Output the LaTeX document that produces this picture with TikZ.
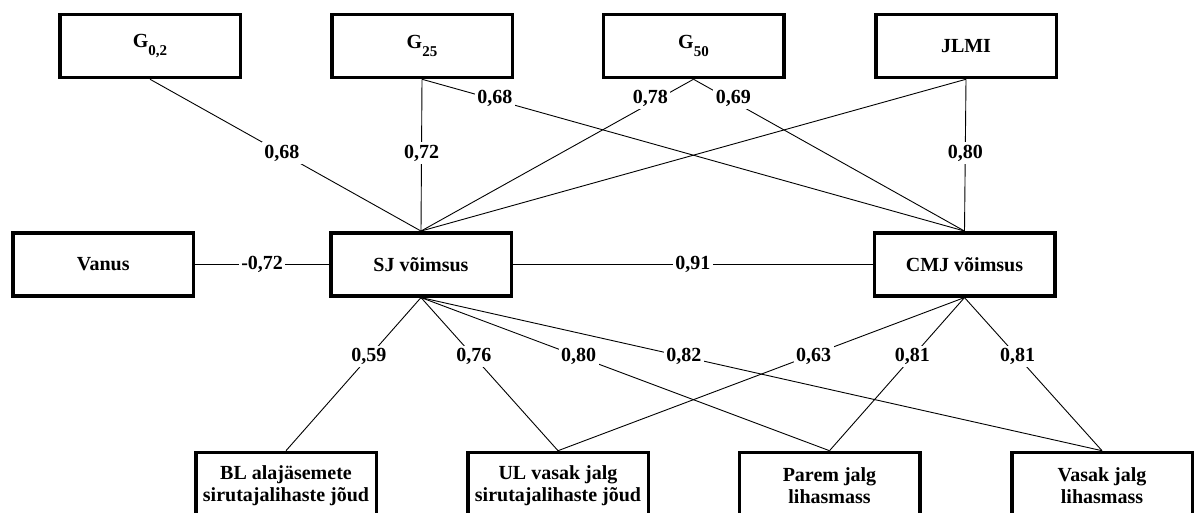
\documentclass[tikz,border=0pt]{standalone}
\usepackage{fontspec}
\setmainfont{Liberation Serif}
\newcommand{\gsub}[1]{\raisebox{-7.5pt}{\fontsize{15}{15}\selectfont #1}}
\begin{document}
\begin{tikzpicture}[x=1pt,y=-1pt,
  box/.style={draw, line width=3.5pt, minimum width=180.5pt, minimum height=63pt,
    font=\fontsize{20}{22}\selectfont\bfseries, align=center, inner sep=0pt},
  lbl/.style={fill=white, inner sep=2.5pt, font=\fontsize{20}{22}\selectfont\bfseries},
  conn/.style={line width=0.9pt}]
\useasboundingbox (0,0) rectangle (1194,512);
\clip (0,0) rectangle (1194,512);
% top row
\node[box] (g02) at (150,46) {G\gsub{0,2}};
\node[box] (g25) at (422,46) {G\gsub{25}};
\node[box] (g50) at (693.5,46) {G\gsub{50}};
\node[box] (jlmi) at (966,46) {JLMI};
% middle row
\node[box] (vanus) at (103.3,264.3) {Vanus};
\node[box] (sj) at (421,264.3) {SJ võimsus};
\node[box] (cmj) at (964.5,264.3) {CMJ võimsus};
% bottom row
\node[box, anchor=north, minimum height=66pt] (bl) at (286,450.7) {BL alajäsemete\\sirutajalihaste jõud};
\node[box, anchor=north, minimum height=66pt] (ul) at (558,450.7) {UL vasak jalg\\sirutajalihaste jõud};
\node[box, anchor=north, minimum height=66pt] (parem) at (829.5,450.7) {Parem jalg\\lihasmass};
\node[box, anchor=north, minimum height=66pt] (vasak) at (1102,450.7) {Vasak jalg\\lihasmass};
% connectors top
\draw[conn] (g02.south) -- node[lbl,pos=.487]{0,68} (sj.north);
\draw[conn] (g25.south) -- node[lbl,pos=.487]{0,72} (sj.north);
\draw[conn] (g25.south) -- node[lbl,pos=.125,xshift=5pt]{0,68} (cmj.north);
\draw[conn] (g50.south) -- node[lbl,pos=.125,xshift=-9pt]{0,78} (sj.north);
\draw[conn] (g50.south) -- node[lbl,pos=.125,xshift=6pt]{0,69} (cmj.north);
\draw[conn] (jlmi.south) -- (sj.north);
\draw[conn] (jlmi.south) -- node[lbl,pos=.487]{0,80} (cmj.north);
% middle
\draw[conn] (vanus.east) -- node[lbl]{-0,72} (sj.west);
\draw[conn] (sj.east) -- node[lbl]{0,91} (cmj.west);
% bottom
\draw[conn] (sj.south) -- node[lbl,pos=.386]{0,59} (bl.north);
\draw[conn] (sj.south) -- node[lbl,pos=.386]{0,76} (ul.north);
\draw[conn] (sj.south) -- node[lbl,pos=.386]{0,80} (parem.north);
\draw[conn] (sj.south) -- node[lbl,pos=.386]{0,82} (vasak.north);
\draw[conn] (cmj.south) -- node[lbl,pos=.386,xshift=6pt]{0,63} (ul.north);
\draw[conn] (cmj.south) -- node[lbl,pos=.386]{0,81} (parem.north);
\draw[conn] (cmj.south) -- node[lbl,pos=.386]{0,81} (vasak.north);
\end{tikzpicture}
\end{document}
